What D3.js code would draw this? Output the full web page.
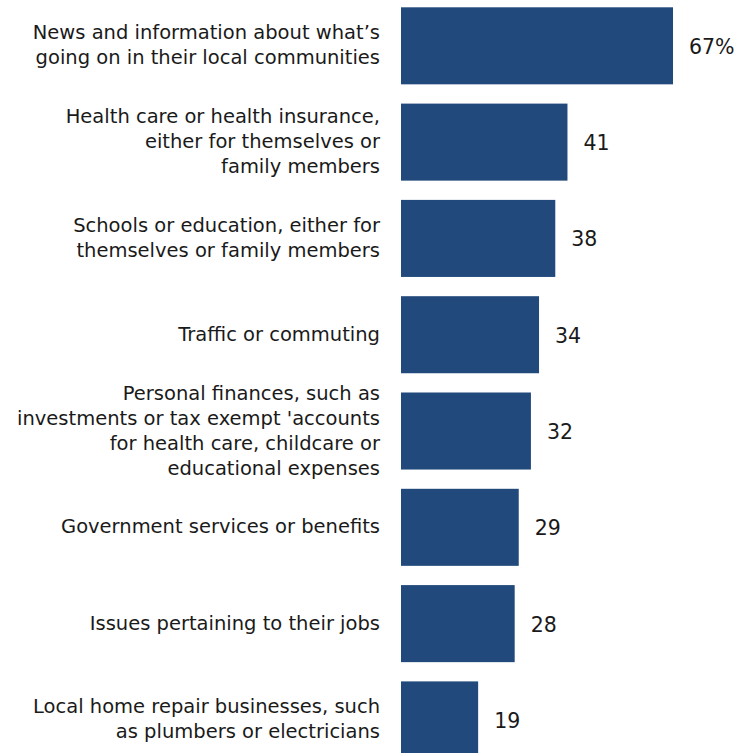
<!DOCTYPE html>
<html>
<head>
<meta charset="utf-8">
<script src="https://cdn.jsdelivr.net/npm/d3@7"></script>
<style>
  html, body { margin: 0; padding: 0; background: #fff; }
  svg { display: block; }
  text { font-family: "DejaVu Sans", "Liberation Sans", Arial, sans-serif; fill: #1a1a1a; }
</style>
</head>
<body>
<svg id="chart" width="740" height="753"></svg>
<script>
// Share of respondents naming each topic (%)
const categories = [
  ["News and information about what\u2019s", "going on in their local communities"],
  ["Health care or health insurance,", "either for themselves or", "family members"],
  ["Schools or education, either for", "themselves or family members"],
  ["Traffic or commuting"],
  ["Personal finances, such as", "investments or tax exempt 'accounts", "for health care, childcare or", "educational expenses"],
  ["Government services or benefits"],
  ["Issues pertaining to their jobs"],
  ["Local home repair businesses, such", "as plumbers or electricians"]
];
const values = [67, 41, 38, 34, 32, 29, 28, 19];
const valueLabels = ["67%", "41", "38", "34", "32", "29", "28", "19"];

const svg = d3.select("#chart");
const barColor = "#21497b";

const x = d3.scaleLinear().domain([0, 100]).range([401, 807]);
const y = d3.scaleBand()
  .domain(d3.range(values.length))
  .range([7.3, 7.3 + 7.8 * 96.3])
  .paddingInner(0.2)
  .paddingOuter(0)
  .align(0);

const rows = svg.selectAll("g.row")
  .data(values.map((v, i) => ({ v, i, lines: categories[i], label: valueLabels[i] })))
  .join("g")
  .attr("class", "row");

rows.append("rect")
  .attr("x", x(0))
  .attr("y", d => y(d.i))
  .attr("width", d => x(d.v) - x(0))
  .attr("height", y.bandwidth())
  .attr("fill", barColor);

rows.append("text")
  .attr("x", d => x(d.v) + 16)
  .attr("y", d => y(d.i) + y.bandwidth() / 2 + 8)
  .attr("font-size", 20.5)
  .text(d => d.label);

const lineH = 25;
rows.append("text")
  .attr("text-anchor", "end")
  .attr("font-size", 19.5)
  .each(function (d) {
    const t = d3.select(this);
    const mid = y(d.i) + y.bandwidth() / 2 + 6;
    const first = mid - (d.lines.length - 1) * lineH / 2;
    d.lines.forEach((ln, k) => {
      t.append("tspan")
        .attr("x", 380)
        .attr("y", first + k * lineH)
        .text(ln);
    });
  });
</script>
</body>
</html>
